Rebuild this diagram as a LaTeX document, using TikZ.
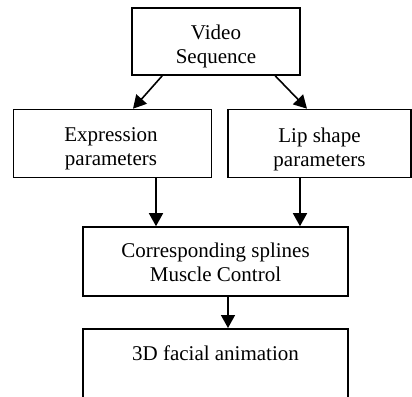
\documentclass[tikz,border=0pt]{standalone}
\usepackage{fontspec}
\setmainfont{Liberation Serif}
\usetikzlibrary{arrows.meta,calc}
\begin{document}
\begin{tikzpicture}[x=1pt,y=-1pt,
  box/.style={draw,line width=1.6pt,inner sep=0pt},
  arr/.style={line width=1.6pt,-{Triangle[length=13pt,width=14pt]}},
  lbl/.style={inner sep=0pt,align=center,anchor=north,
    font=\fontsize{21}{24}\selectfont}]
\useasboundingbox (0,0) rectangle (412,396);
\clip (0,0) rectangle (412,396);
\node[box,minimum width=168pt,minimum height=67pt] (video) at (216,41.5) {};
\node[box,minimum width=198pt,minimum height=68pt] (expr) at (112.5,143.5) {};
\node[box,minimum width=183pt,minimum height=68pt] (lip) at (319.5,143.5) {};
\node[box,minimum width=265pt,minimum height=69pt] (corr) at (215.5,261.5) {};
\node[box,minimum width=265pt,minimum height=140pt,anchor=north] (anim) at (215.5,328) {};
\node[lbl] (videotext) at (216,24.7) {Video\\Sequence};
\node[lbl] (exprtext) at (111,127.8) {Expression\\parameters};
\node[lbl] (liptext) at (319.5,127.4) {Lip shape\\parameters};
\node[lbl] (corrtext) at (215.5,243) {Corresponding splines\\Muscle Control};
\node[lbl] (animtext) at (215.5,345.7) {3D facial animation};
\draw[arr] ($(video.south west)+(31,0)$) -- ($(expr.north)+(20.5,0)$);
\draw[arr] ($(video.south west)+(144,0)$) -- ($(lip.north)+(-12.5,0)$);
\draw[arr] ($(expr.south)+(43.5,0)$) -- ($(corr.north)+(-59.5,0)$);
\draw[arr] ($(lip.south)+(-19.5,0)$) -- ($(corr.north)+(84.5,0)$);
\draw[arr] ($(corr.south)+(12.5,0)$) -- ($(anim.north)+(12.5,0)$);
\end{tikzpicture}
\end{document}
